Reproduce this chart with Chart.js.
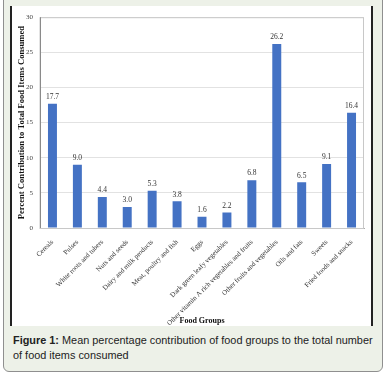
<!DOCTYPE html>
<html>
<head>
<meta charset="utf-8">
<script src="https://cdn.jsdelivr.net/npm/chart.js@4"></script>
<style>
  html, body { margin: 0; padding: 0; background: #fff; }
  .panel {
    position: absolute; left: 3px; top: -6px; width: 380px; height: 378px;
    background: #edf1e8; border: 1px solid #8f8f8f; border-radius: 6px;
    box-sizing: border-box;
  }
  .figure {
    position: absolute; left: 10px; top: 6px; width: 363px; height: 320px;
    background: #fff; border-left: 2px solid #222; border-right: 2px solid #222;
    box-sizing: border-box;
  }
  canvas { position: absolute; left: 12px; top: 6px; }
  .caption {
    position: absolute; left: 13px; top: 333px; width: 370px; white-space: nowrap;
    font-family: "Liberation Sans", Arial, sans-serif; font-size: 10.9px;
    line-height: 14.5px; color: #222;
  }
</style>
</head>
<body>
<div class="panel"></div>
<div class="figure"></div>
<canvas id="foodChart" width="359" height="320"></canvas>
<div class="caption"><b>Figure 1:</b> Mean percentage contribution of food groups to the total number<br>of food items consumed</div>
<script>
var foodGroups = ["Cereals", "Pulses", "White roots and tubers", "Nuts and seeds",
    "Dairy and milk products", "Meat, poultry and fish", "Eggs",
    "Dark green leafy vegetables", "Other vitamin A rich vegetables and fruits",
    "Other fruits and vegetables", "Oils and fats", "Sweets", "Fried foods and snacks"];
var percentValues = [17.7, 9.0, 4.4, 3.0, 5.3, 3.8, 1.6, 2.2, 6.8, 26.2, 6.5, 9.1, 16.4];
var yTicks = [0, 5, 10, 15, 20, 25, 30];

var serif = "'Liberation Serif', 'Times New Roman', serif";

// values above the bars
var valueLabels = {
    id: 'valueLabels',
    afterDatasetsDraw: function (chart) {
        var ctx = chart.ctx;
        var meta = chart.getDatasetMeta(0);
        ctx.save();
        ctx.font = '7.5px ' + serif;
        ctx.fillStyle = '#333';
        ctx.textAlign = 'center';
        ctx.textBaseline = 'bottom';
        meta.data.forEach(function (bar, i) {
            ctx.fillText(percentValues[i].toFixed(1), bar.x, bar.y - 3);
        });
        ctx.restore();
    }
};

// light frame around plot area
var plotFrame = {
    id: 'plotFrame',
    beforeDatasetsDraw: function (chart) {
        var a = chart.chartArea;
        var ctx = chart.ctx;
        ctx.save();
        ctx.strokeStyle = '#c8c8c8';
        ctx.lineWidth = 1;
        ctx.strokeRect(a.left, a.top + 0.5, a.right - a.left - 0.5, a.bottom - a.top);
        ctx.strokeStyle = '#8a8a8a';
        ctx.beginPath();
        ctx.moveTo(a.left + 0.5, a.top);
        ctx.lineTo(a.left + 0.5, a.bottom);
        ctx.stroke();
        ctx.restore();
    }
};

var ctx = document.getElementById('foodChart').getContext('2d');
var foodChart = new Chart(ctx, {
    type: 'bar',
    data: {
        labels: foodGroups,
        datasets: [{
            data: percentValues,
            backgroundColor: '#4472c4',
            barPercentage: 0.36,
            categoryPercentage: 1
        }]
    },
    options: {
        responsive: false,
        animation: false,
        layout: { padding: { top: 11, right: 7, left: 0, bottom: 0 } },
        plugins: { legend: { display: false }, tooltip: { enabled: false } },
        scales: {
            x: {
                grid: { display: false },
                border: { color: '#aaaaaa' },
                ticks: {
                    minRotation: 45, maxRotation: 45, autoSkip: false,
                    font: { family: serif, size: 7 }, color: '#333', padding: 2
                },
                title: {
                    display: true, text: 'Food Groups', color: '#111',
                    font: { family: serif, size: 8, weight: 'bold' },
                    padding: { top: 0, bottom: 0 }
                },
                afterFit: function (scale) { scale.height = 98; }
            },
            y: {
                min: 0, max: 30,
                afterBuildTicks: function (scale) {
                    scale.ticks = yTicks.map(function (v) { return { value: v }; });
                },
                grid: { color: '#e2e2e2', drawTicks: false },
                border: { display: false },
                ticks: { font: { family: serif, size: 7 }, color: '#444', padding: 7 },
                title: {
                    display: true, text: 'Percent Contribution to Total Food Items Consumed',
                    color: '#111', font: { family: serif, size: 8.6, weight: 'bold' },
                    padding: { top: 5, bottom: 0 }
                },
                afterFit: function (scale) { scale.width = 28; }
            }
        }
    },
    plugins: [plotFrame, valueLabels]
});
</script>
</body>
</html>
